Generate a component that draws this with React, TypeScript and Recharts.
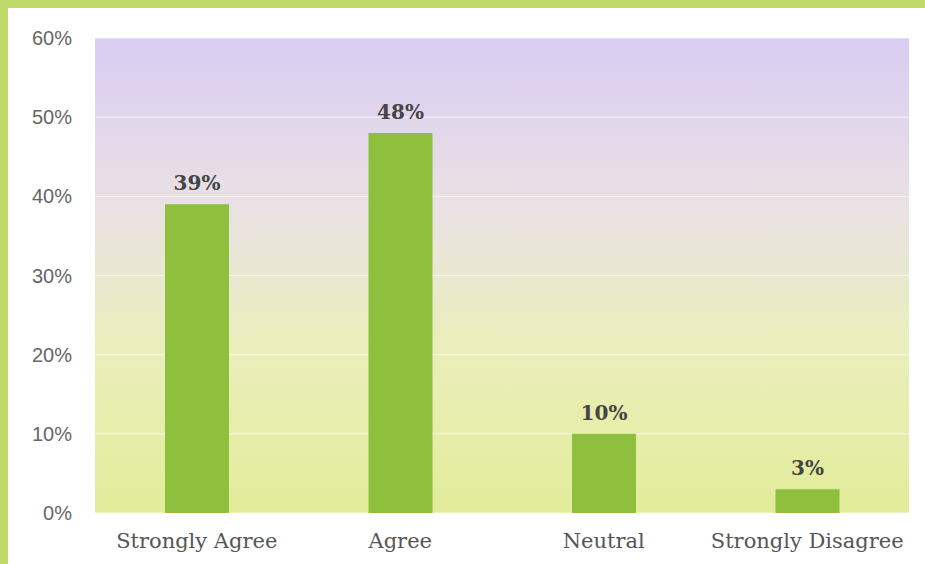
import { Bar, BarChart, CartesianGrid, LabelList, XAxis, YAxis } from "recharts";

const categories = ["Strongly Agree", "Agree", "Neutral", "Strongly Disagree"];
const shares = [39, 48, 10, 3];
const yTicks = [0, 10, 20, 30, 40, 50, 60];

const data = categories.map((name, i) => ({ name, value: shares[i] }));

export default function App() {
  return (
    <div style={{ position: "absolute", left: 0, top: 0, width: 925, height: 564, background: "#c0da6a", overflow: "hidden" }}>
      <div style={{ position: "absolute", left: 8, top: 8, right: 0, bottom: 0, background: "#ffffff" }} />
      <div style={{ position: "absolute", left: 0, top: 0 }}>
        <BarChart width={925} height={564} data={data} margin={{ top: 38, right: 16, bottom: 0, left: 0 }}>
          <defs>
            <linearGradient id="plotBg" x1="0" y1="0" x2="0" y2="1">
              <stop offset="0%" stopColor="#d9ccf2" />
              <stop offset="35%" stopColor="#e9e1e4" />
              <stop offset="65%" stopColor="#ebeebb" />
              <stop offset="100%" stopColor="#e2ec9a" />
            </linearGradient>
          </defs>
          <CartesianGrid fill="url(#plotBg)" vertical={false} stroke="#ffffff" strokeOpacity={0.7} />
          <XAxis
            dataKey="name"
            height={51}
            axisLine={false}
            tickLine={false}
            tickSize={0}
            tickMargin={20}
            tick={{ fill: "#555555", fontSize: 21, fontFamily: "DejaVu Serif" }}
          />
          <YAxis
            width={95}
            domain={[0, 60]}
            ticks={yTicks}
            axisLine={false}
            tickLine={false}
            tickSize={0}
            tickMargin={23}
            tickFormatter={(v: number) => `${v}%`}
            tick={{ fill: "#666666", fontSize: 20, fontFamily: "Liberation Sans" }}
          />
          <Bar dataKey="value" fill="#8ebf3d" barSize={64} isAnimationActive={false}>
            <LabelList
              dataKey="value"
              position="top"
              offset={14}
              formatter={(v: number) => `${v}%`}
              style={{ fill: "#444444", fontSize: 20, fontFamily: "DejaVu Serif", fontWeight: 600 }}
            />
          </Bar>
        </BarChart>
      </div>
    </div>
  );
}
